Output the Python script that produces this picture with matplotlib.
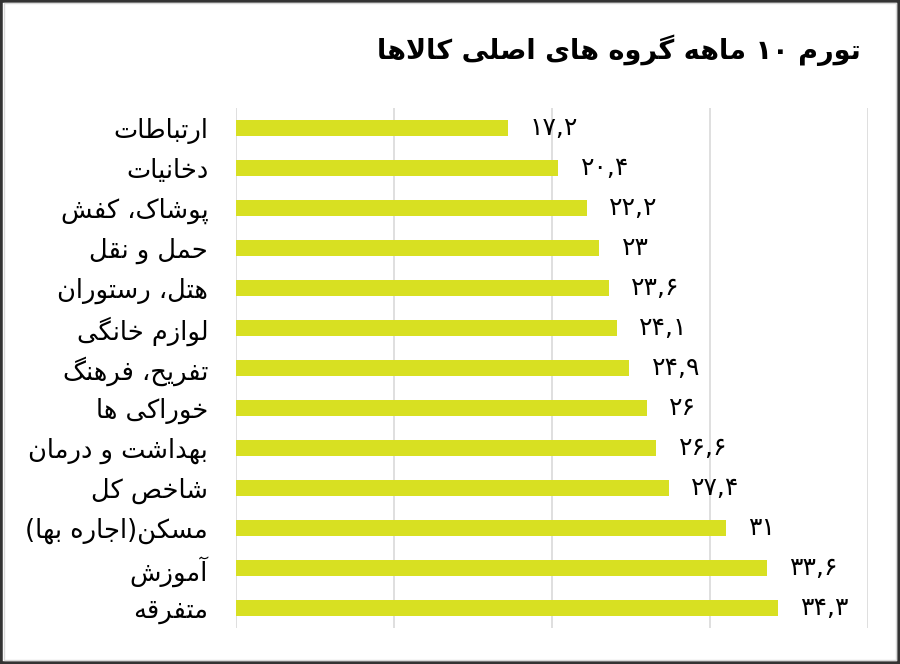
import re
import matplotlib
matplotlib.use('Agg')
import matplotlib.pyplot as plt
from matplotlib.patches import Rectangle

# chart data, top to bottom
title = 'تورم ۱۰ ماهه گروه های اصلی کالاها'
categories = ['ارتباطات', 'دخانیات', 'پوشاک، کفش', 'حمل و نقل', 'هتل، رستوران',
              'لوازم خانگی', 'تفریح، فرهنگ', 'خوراکی ها', 'بهداشت و درمان',
              'شاخص کل', 'مسکن(اجاره بها)', 'آموزش', 'متفرقه']
values = [17.2, 20.4, 22.2, 23, 23.6, 24.1, 24.9, 26, 26.6, 27.4, 31, 33.6, 34.3]
x_ticks = [0, 10, 20, 30, 40]

# arabic presentation forms: isolated, final, initial, medial
FORMS = {
    'ا': ('\uFE8D', '\uFE8E', None, None),
    'آ': ('\uFE81', '\uFE82', None, None),
    'ب': ('\uFE8F', '\uFE90', '\uFE91', '\uFE92'),
    'پ': ('\uFB56', '\uFB57', '\uFB58', '\uFB59'),
    'ت': ('\uFE95', '\uFE96', '\uFE97', '\uFE98'),
    'ث': ('\uFE99', '\uFE9A', '\uFE9B', '\uFE9C'),
    'ج': ('\uFE9D', '\uFE9E', '\uFE9F', '\uFEA0'),
    'چ': ('\uFB7A', '\uFB7B', '\uFB7C', '\uFB7D'),
    'ح': ('\uFEA1', '\uFEA2', '\uFEA3', '\uFEA4'),
    'خ': ('\uFEA5', '\uFEA6', '\uFEA7', '\uFEA8'),
    'د': ('\uFEA9', '\uFEAA', None, None),
    'ذ': ('\uFEAB', '\uFEAC', None, None),
    'ر': ('\uFEAD', '\uFEAE', None, None),
    'ز': ('\uFEAF', '\uFEB0', None, None),
    'ژ': ('\uFB8A', '\uFB8B', None, None),
    'س': ('\uFEB1', '\uFEB2', '\uFEB3', '\uFEB4'),
    'ش': ('\uFEB5', '\uFEB6', '\uFEB7', '\uFEB8'),
    'ص': ('\uFEB9', '\uFEBA', '\uFEBB', '\uFEBC'),
    'ض': ('\uFEBD', '\uFEBE', '\uFEBF', '\uFEC0'),
    'ط': ('\uFEC1', '\uFEC2', '\uFEC3', '\uFEC4'),
    'ظ': ('\uFEC5', '\uFEC6', '\uFEC7', '\uFEC8'),
    'ع': ('\uFEC9', '\uFECA', '\uFECB', '\uFECC'),
    'غ': ('\uFECD', '\uFECE', '\uFECF', '\uFED0'),
    'ف': ('\uFED1', '\uFED2', '\uFED3', '\uFED4'),
    'ق': ('\uFED5', '\uFED6', '\uFED7', '\uFED8'),
    'ک': ('\uFB8E', '\uFB8F', '\uFB90', '\uFB91'),
    'گ': ('\uFB92', '\uFB93', '\uFB94', '\uFB95'),
    'ل': ('\uFEDD', '\uFEDE', '\uFEDF', '\uFEE0'),
    'م': ('\uFEE1', '\uFEE2', '\uFEE3', '\uFEE4'),
    'ن': ('\uFEE5', '\uFEE6', '\uFEE7', '\uFEE8'),
    'ه': ('\uFEE9', '\uFEEA', '\uFEEB', '\uFEEC'),
    'و': ('\uFEED', '\uFEEE', None, None),
    'ی': ('\uFBFC', '\uFBFD', '\uFBFE', '\uFBFF'),
}
LAM_ALEF = {'ا': ('\uFEFB', '\uFEFC'), 'آ': ('\uFEF5', '\uFEF6')}
MIRROR = {'(': ')', ')': '('}
FA_DIGITS = str.maketrans('0123456789.', '۰۱۲۳۴۵۶۷۸۹,')


def shape(text):
    out = []
    prev_joins = False
    i = 0
    while i < len(text):
        ch = text[i]
        nxt = text[i + 1] if i + 1 < len(text) else ''
        if ch not in FORMS:
            out.append(ch)
            prev_joins = False
            i += 1
            continue
        if ch == 'ل' and nxt in LAM_ALEF:
            iso, fin = LAM_ALEF[nxt]
            out.append(fin if prev_joins else iso)
            prev_joins = False
            i += 2
            continue
        iso, fin, ini, med = FORMS[ch]
        next_joins = ini is not None and nxt in FORMS
        if prev_joins and next_joins:
            out.append(med)
        elif prev_joins:
            out.append(fin)
        elif next_joins:
            out.append(ini)
        else:
            out.append(iso)
        prev_joins = ini is not None
        i += 1
    return ''.join(out)


def rtl(text):
    """Shape persian text and put it in visual (left to right) order."""
    tokens = re.findall(r'[۰-۹0-9,]+|[^۰-۹0-9,]+', shape(text))
    out = []
    for t in reversed(tokens):
        if re.match(r'[۰-۹0-9]', t):
            out.append(t)
        else:
            out.append(''.join(MIRROR.get(c, c) for c in reversed(t)))
    return ''.join(out)


plt.rcParams['font.family'] = ['DejaVu Sans']

fig = plt.figure(figsize=(9, 6.64), dpi=100)
ax = fig.add_axes([0.2622, 0.0542, 0.7022, 0.7831])

y_pos = list(range(len(categories)))
ax.barh(y_pos, values, height=0.38, color='#d8e022', zorder=2)

ax.set_xlim(0, 40)
ax.set_ylim(len(categories) - 0.5, -0.5)
ax.set_xticks(x_ticks)
ax.xaxis.grid(True, color='#d9d9d9', linewidth=1.2, zorder=0)
ax.tick_params(axis='x', length=0, labelbottom=False)
ax.set_yticks(y_pos)
ax.set_yticklabels([rtl(c) for c in categories], fontsize=18.5, color='black')
ax.tick_params(axis='y', length=0, pad=20)
for side in ax.spines.values():
    side.set_visible(False)

for y, v in zip(y_pos, values):
    label = ('%g' % v).translate(FA_DIGITS)
    ax.annotate(label, (v, y), xytext=(16, 0), textcoords='offset points',
                ha='left', va='center', fontsize=18, color='black')

fig.text(0.956, 0.925, rtl(title), ha='right', va='center',
         fontsize=19.5, fontweight='bold', color='black')

# frame around the whole picture
fig.patches.append(Rectangle((0, 0), 1, 1, transform=fig.transFigure,
                             fill=False, edgecolor='#333333', linewidth=4))
fig.patches.append(Rectangle((0.004, 0.006), 0.992, 0.989, transform=fig.transFigure,
                             fill=False, edgecolor='#d9d9d9', linewidth=1))

fig.savefig('out.png', dpi=100)
